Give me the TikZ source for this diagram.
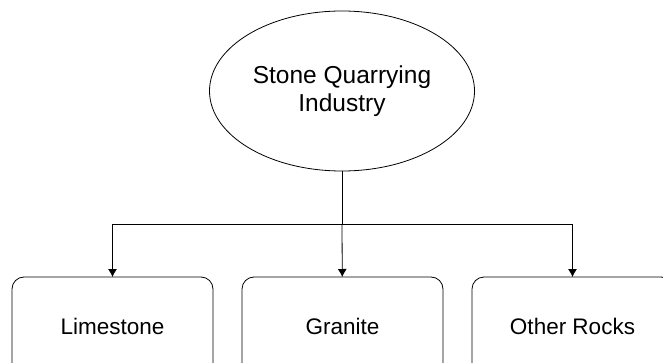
\documentclass[tikz,border=0pt]{standalone}
\usepackage{fontspec}
\setmainfont{Liberation Sans}
\usetikzlibrary{shapes.geometric,positioning,arrows.meta}

\tikzset{
  industry/.style={draw, ellipse, minimum width=265pt, minimum height=160pt,
    inner sep=0pt, align=center, font=\fontsize{24.5}{28}\selectfont},
  rock/.style={draw, rounded corners=12pt, minimum width=201pt, minimum height=98pt,
    inner sep=0pt, outer sep=0pt, font=\fontsize{22.5}{26}\selectfont},
}

\begin{document}
\begin{tikzpicture}[>={Latex[length=8pt,width=9pt]}, x=1pt, y=-1pt, node distance=29pt, line width=0.8pt]
  % Frame
  \useasboundingbox (0,0) rectangle (663,363);
  \clip (0,0) rectangle (663,363);
  % Nodes
  \node[industry] (Ind) at (342,91) {Stone Quarrying\\Industry};
  \node[rock] (Gra) at (342.5,326) {Granite};
  \node[rock] (Lim) [left=of Gra] {Limestone};
  \node[rock] (Oth) [right=of Gra] {Other Rocks};
  \coordinate (Bar) at (342,224);
  % Arrows
  \draw (Ind) -- (Bar);
  \draw[->] (Bar) -- (Gra);
  \draw[->] (Bar) -| (Lim);
  \draw[->] (Bar) -| (Oth);
\end{tikzpicture}
\end{document}
